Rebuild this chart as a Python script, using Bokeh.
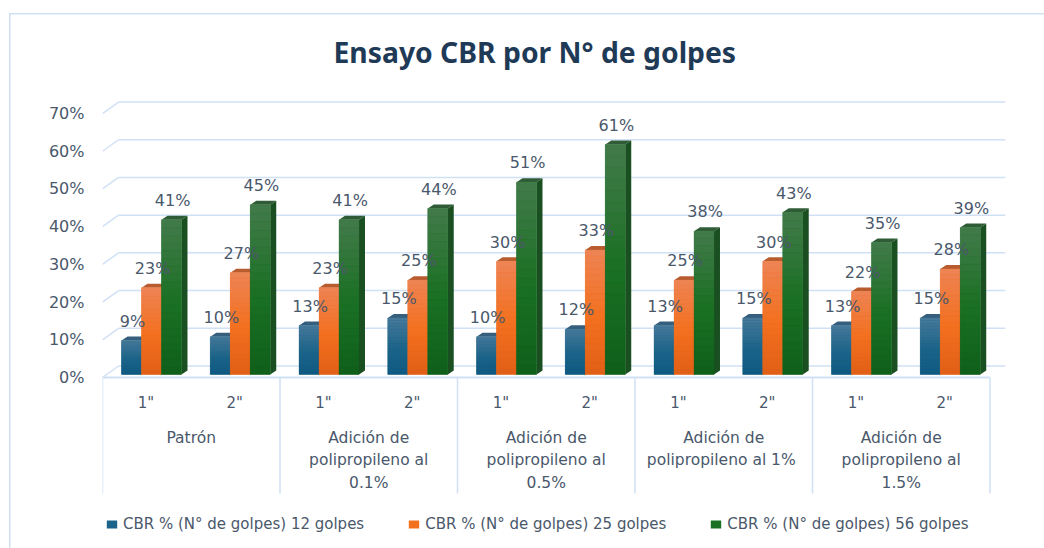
from bokeh.embed import file_html
from bokeh.resources import INLINE
from bokeh.plotting import figure
from bokeh.models import Range1d, FixedTicker, PrintfTickFormatter, Legend, LegendItem
from bokeh.core.properties import value

groups = ["Patrón", "Adición de\npolipropileno al\n0.1%", "Adición de\npolipropileno al\n0.5%",
          "Adición de\npolipropileno al  1%", "Adición de\npolipropileno al\n1.5%"]
subcats = ['1"', '2"'] * 5
series_names = ["CBR % (N° de golpes) 12 golpes", "CBR % (N° de golpes) 25 golpes", "CBR % (N° de golpes) 56 golpes"]
cbr_12 = [9, 10, 13, 15, 10, 12, 13, 15, 13, 15]
cbr_25 = [23, 27, 23, 25, 30, 33, 25, 30, 22, 28]
cbr_56 = [41, 45, 41, 44, 51, 61, 38, 43, 35, 39]
yticks = [0, 10, 20, 30, 40, 50, 60, 70]

FONT = "DejaVu Sans"
TXT = "#4a586b"
GRID = "#d0e1f6"
PXX = 88.75      # px per category
PXY = 3.771      # px per percent
DX, DY = 6 / PXX, 4 / PXY
BW = 20 / PXX
WX, WY = 16 / PXX, 11.5 / PXY
BASE = 0.8

styles = [
    dict(stops=["#487a9b", "#1c6489", "#0f5a82"], top="#355f7c", side="#0c4560"),
    dict(stops=["#ee8455", "#f3701f", "#e05f17"], top="#b85c30", side="#a8480f"),
    dict(stops=["#437a4b", "#1a7023", "#0f5f1b"], top="#2f5c36", side="#1a4f22"),
]

def mix(a, b, t):
    ca = [int(a[i:i + 2], 16) for i in (1, 3, 5)]
    cb = [int(b[i:i + 2], 16) for i in (1, 3, 5)]
    return "#%02x%02x%02x" % tuple(round(x + (y - x) * t) for x, y in zip(ca, cb))

def grad(stops, t):
    return mix(stops[0], stops[1], t / 0.55) if t < 0.55 else mix(stops[1], stops[2], (t - 0.55) / 0.45)

p = figure(width=1044, height=548, output_backend="svg", toolbar_location=None,
           x_range=Range1d(0, 903 / PXX), y_range=Range1d(-171 / PXY, 282 / PXY),
           min_border_left=102, min_border_right=39, min_border_top=95, min_border_bottom=0,
           title="Ensayo CBR por N° de golpes")
p.title.align = "left"
p.title.offset = 231
p.title.standoff = 50
p.title.text_font = "Noto Sans"
p.title.text_font_size = "28.3px"
p.title.text_font_style = "bold"
p.title.text_color = "#1f3a56"
p.outline_line_color = None
p.border_fill_alpha = 0
p.grid.visible = False
p.xaxis.visible = False
p.styles = {
    "background-image": "linear-gradient(#cfe0f3,#cfe0f3),linear-gradient(#cfe0f3,#cfe0f3)",
    "background-size": "1.5px 536px, 1036px 1.5px",
    "background-position": "8.5px 13px, 8.5px 13px",
    "background-repeat": "no-repeat",
}

ax = p.yaxis[0]
ax.ticker = FixedTicker(ticks=yticks)
ax.formatter = PrintfTickFormatter(format="%d%%")
ax.axis_line_color = None
ax.major_tick_line_color = None
ax.minor_tick_line_color = None
ax.major_label_standoff = 12
ax.major_label_text_font = FONT
ax.major_label_text_font_size = "16px"
ax.major_label_text_color = TXT

p.segment(x0=[WX] * len(yticks), x1=[903 / PXX] * len(yticks), y0=[v + WY for v in yticks], y1=[v + WY for v in yticks],
          line_color=GRID, line_width=1.5)
p.segment(x0=[0] * len(yticks), x1=[WX] * len(yticks), y0=yticks, y1=[v + WY for v in yticks],
          line_color=GRID, line_width=1.5)
p.segment(x0=[0], x1=[10], y0=[0], y1=[0], line_color=GRID, line_width=2)
p.segment(x0=[2 * i for i in range(6)], x1=[2 * i for i in range(6)], y0=[0] * 6, y1=[-116 / PXY] * 6,
          line_color=GRID, line_width=1.5)

legend_items = []
for s, vals in enumerate([cbr_12, cbr_25, cbr_56]):
    st = styles[s]
    lefts = [i + 0.5 + 0.052 + (s - 1.5) * BW for i in range(len(vals))]
    rights = [l + BW for l in lefts]
    p.patches(xs=[[l, l + DX, r + DX, r] for l, r in zip(lefts, rights)],
              ys=[[v + BASE, v + BASE + DY, v + BASE + DY, v + BASE] for v in vals],
              fill_color=st["top"], line_color=None)
    p.patches(xs=[[r, r + DX, r + DX, r] for r in rights],
              ys=[[BASE, BASE + DY, v + BASE + DY, v + BASE] for v in vals],
              fill_color=st["side"], line_color=None)
    base = p.quad(left=lefts, right=rights, bottom=[BASE] * len(vals), top=[v + BASE for v in vals],
                  fill_color=st["stops"][1], line_color=None)
    legend_items.append(LegendItem(label=series_names[s], renderers=[base]))
    N = 20
    L, R, B, T, C = [], [], [], [], []
    for l, r, v in zip(lefts, rights, vals):
        for k in range(N):
            T.append(v + BASE - v * k / N)
            B.append(v + BASE - v * (k + 1) / N)
            L.append(l); R.append(r)
            C.append(grad(st["stops"], (k + 0.5) / N))
    p.quad(left=L, right=R, bottom=B, top=T, fill_color=C, line_color=C, line_width=0.3)

for s, vals in enumerate([cbr_12, cbr_25, cbr_56]):
    xs = [i + 0.5 + 0.052 + (s - 1) * BW + 0.012 for i in range(len(vals))]
    p.text(x=xs, y=[v + BASE + 5.1 for v in vals], text=[f"{v}%" for v in vals],
           text_align="center", text_baseline="middle", text_font=value(FONT),
           text_font_size="16px", text_color=TXT)

p.text(x=[i + 0.49 for i in range(10)], y=[-25 / PXY] * 10, text=subcats, text_align="center",
       text_baseline="middle", text_font=value(FONT), text_font_size="15px", text_color=TXT)
p.text(x=[2 * i + 1 for i in range(5)], y=[-51 / PXY] * 5, text=groups, text_align="center",
       text_baseline="top", text_font=value(FONT), text_font_size="15.5px", text_color=TXT,
       text_line_height=1.25)

legend = Legend(items=legend_items, orientation="horizontal", location=(3, 15), border_line_color=None,
                background_fill_alpha=0, label_text_font=FONT, label_text_font_size="15px",
                label_text_color=TXT, glyph_width=13, glyph_height=10, spacing=43, padding=0,
                margin=0, label_standoff=5)
p.add_layout(legend, "center")

open("out.html", "w").write(file_html(p, INLINE))
